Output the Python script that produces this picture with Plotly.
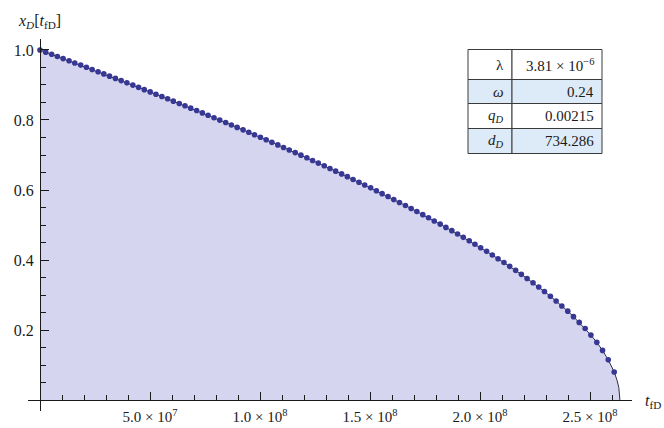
import plotly.graph_objects as go

# ---------------- data ----------------
# sample dots: time t_fD in units of 1e8, and x_D
t_dots_e8 = [
    0.000, 0.026, 0.053, 0.079, 0.105, 0.132, 0.158, 0.185, 0.211, 0.237,
    0.264, 0.290, 0.316, 0.343, 0.369, 0.395, 0.422, 0.448, 0.474, 0.501,
    0.527, 0.554, 0.580, 0.606, 0.633, 0.659, 0.685, 0.712, 0.738, 0.764,
    0.791, 0.817, 0.844, 0.870, 0.896, 0.923, 0.949, 0.975, 1.002, 1.028,
    1.054, 1.081, 1.107, 1.133, 1.160, 1.186, 1.213, 1.239, 1.265, 1.292,
    1.318, 1.344, 1.371, 1.397, 1.423, 1.450, 1.476, 1.503, 1.529, 1.555,
    1.582, 1.608, 1.634, 1.661, 1.687, 1.713, 1.740, 1.766, 1.792, 1.819,
    1.845, 1.872, 1.898, 1.924, 1.951, 1.977, 2.003, 2.030, 2.056, 2.082,
    2.109, 2.135, 2.162, 2.188, 2.214, 2.241, 2.267, 2.293, 2.320, 2.346,
    2.372, 2.399, 2.425, 2.451, 2.478, 2.504, 2.531, 2.557, 2.583, 2.610,
]
xd_dots = [
    1.0000, 0.9939, 0.9878, 0.9816, 0.9754, 0.9693, 0.9630, 0.9568, 0.9506, 0.9443,
    0.9380, 0.9317, 0.9253, 0.9189, 0.9125, 0.9061, 0.8997, 0.8932, 0.8867, 0.8802,
    0.8737, 0.8671, 0.8605, 0.8539, 0.8472, 0.8405, 0.8338, 0.8270, 0.8203, 0.8134,
    0.8066, 0.7997, 0.7928, 0.7859, 0.7789, 0.7719, 0.7648, 0.7577, 0.7506, 0.7434,
    0.7362, 0.7289, 0.7216, 0.7143, 0.7069, 0.6995, 0.6920, 0.6844, 0.6769, 0.6692,
    0.6615, 0.6538, 0.6460, 0.6381, 0.6302, 0.6222, 0.6142, 0.6061, 0.5979, 0.5896,
    0.5813, 0.5729, 0.5644, 0.5559, 0.5472, 0.5385, 0.5296, 0.5207, 0.5116, 0.5025,
    0.4932, 0.4838, 0.4743, 0.4647, 0.4549, 0.4450, 0.4349, 0.4247, 0.4143, 0.4036,
    0.3928, 0.3818, 0.3705, 0.3590, 0.3472, 0.3351, 0.3227, 0.3098, 0.2966, 0.2829,
    0.2687, 0.2538, 0.2382, 0.2218, 0.2043, 0.1854, 0.1648, 0.1417, 0.1147, 0.0802,
]
# end of the curve (line only, no dots)
t_tail_e8 = [2.623, 2.631, 2.636]
xd_tail = [0.0563, 0.0353, 0.0]

x_tickvals = [5e7, 1e8, 1.5e8, 2e8, 2.5e8]
x_ticktext = ["5.0 × 10<sup>7</sup>", "1.0 × 10<sup>8</sup>", "1.5 × 10<sup>8</sup>",
              "2.0 × 10<sup>8</sup>", "2.5 × 10<sup>8</sup>"]
y_tickvals = [0.2, 0.4, 0.6, 0.8, 1.0]
y_ticktext = ["0.2", "0.4", "0.6", "0.8", "1.0"]
x_minor = [1e7 * k for k in range(1, 27) if k % 5]
y_minor = [0.05 * k for k in range(1, 20) if k % 4]

table_labels = ["λ", "<i>ω</i>", "<i>q</i><sub><i>D</i></sub>", "<i>d</i><sub><i>D</i></sub>"]
table_values = ["3.81 × 10<sup>−6</sup>", "0.24", "0.00215", "734.286"]

# ---------------- figure ----------------
t_dots = [v * 1e8 for v in t_dots_e8]
t_tail = [v * 1e8 for v in t_tail_e8]

W, H = 664, 428
L, R, T, B = 28, 32, 39, 17
PW, PH = W - L - R, H - T - B
XR = [-5.4545e6, 2.6909e8]
YR = [-0.0314, 1.0314]


def pxx(xp):
    return (xp - L) / PW


def pxy(yp):
    return (H - B - yp) / PH


SERIF = "Liberation Serif, Times New Roman, serif"
INK = "#1a1a1a"

fig = go.Figure()
fig.add_trace(go.Scatter(
    x=t_dots + t_tail, y=xd_dots + xd_tail, mode="lines",
    line=dict(color="rgb(45,45,70)", width=1),
    fill="tozeroy", fillcolor="rgb(213,213,239)", hoverinfo="skip",
))
fig.add_trace(go.Scatter(
    x=t_dots, y=xd_dots, mode="markers",
    marker=dict(color="rgb(55,55,148)", size=5.6, line=dict(width=0)),
    hoverinfo="skip",
))

x_pos = (0 - YR[0]) / (YR[1] - YR[0])
y_pos = (0 - XR[0]) / (XR[1] - XR[0])

fig.update_layout(
    template="none",
    width=W, height=H,
    margin=dict(l=L, r=R, t=T, b=B),
    plot_bgcolor="white", paper_bgcolor="white",
    showlegend=False,
    xaxis=dict(
        range=XR, anchor="free", position=x_pos, showgrid=False, zeroline=False,
        showline=True, linecolor=INK, linewidth=1,
        tickmode="array", tickvals=x_tickvals, ticktext=x_ticktext,
        ticks="inside", ticklen=8, tickcolor=INK, tickwidth=1,
        tickfont=dict(family=SERIF, size=15, color=INK),
        ticklabelstandoff=3,
        minor=dict(tickmode="array", tickvals=x_minor, ticks="inside", ticklen=5,
                   tickcolor=INK, tickwidth=1, showgrid=False),
        automargin=False,
    ),
    yaxis=dict(
        range=YR, anchor="free", position=y_pos, showgrid=False, zeroline=False,
        showline=True, linecolor=INK, linewidth=1,
        tickmode="array", tickvals=y_tickvals, ticktext=y_ticktext,
        ticks="inside", ticklen=8, tickcolor=INK, tickwidth=1,
        tickfont=dict(family=SERIF, size=16, color=INK),
        ticklabelstandoff=3,
        minor=dict(tickmode="array", tickvals=y_minor, ticks="inside", ticklen=5,
                   tickcolor=INK, tickwidth=1, showgrid=False),
        automargin=False,
    ),
)

# axis labels
fig.add_annotation(x=pxx(39), y=pxy(21), xref="paper", yref="paper",
                   text="<i>x</i><sub><i>D</i></sub>[<i>t</i><sub>fD</sub>]",
                   showarrow=False, font=dict(family=SERIF, size=16, color=INK),
                   xanchor="center", yanchor="middle")
fig.add_annotation(x=pxx(653), y=pxy(401), xref="paper", yref="paper",
                   text="<i>t</i><sub>fD</sub>",
                   showarrow=False, font=dict(family=SERIF, size=16, color=INK),
                   xanchor="center", yanchor="middle")

# parameter table
col_x = [468, 512, 602]
row_y = [49.5, 79.5, 103.5, 128.5, 153.5]
for i in range(len(table_labels)):
    fill = "rgb(221,234,248)" if i % 2 == 1 else "white"
    for c in range(2):
        fig.add_shape(type="rect", xref="paper", yref="paper",
                      x0=pxx(col_x[c]), x1=pxx(col_x[c + 1]),
                      y0=pxy(row_y[i + 1]), y1=pxy(row_y[i]),
                      fillcolor=fill, line=dict(color="#3a3a3a", width=1), layer="above")
    yc = (row_y[i] + row_y[i + 1]) / 2
    fig.add_annotation(x=pxx(col_x[1] - 6), y=pxy(yc), xref="paper", yref="paper",
                       text=table_labels[i], showarrow=False,
                       font=dict(family=SERIF, size=15, color=INK),
                       xanchor="right", yanchor="middle")
    fig.add_annotation(x=pxx(col_x[2] - 6), y=pxy(yc), xref="paper", yref="paper",
                       text=table_values[i], showarrow=False,
                       font=dict(family=SERIF, size=15, color=INK),
                       xanchor="right", yanchor="middle")

fig.write_html("out.html", config={"displayModeBar": False},
               post_script="document.body.style.margin='0';")
